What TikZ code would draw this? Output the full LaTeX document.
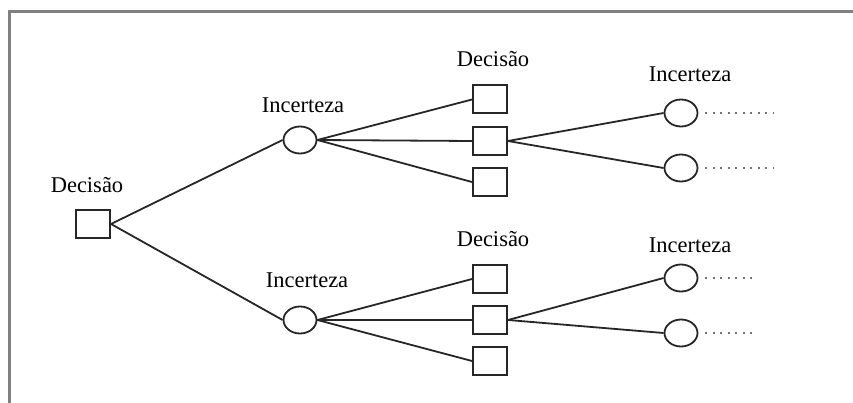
\documentclass[tikz,border=0pt]{standalone}
\usepackage{fontspec}
\setmainfont{Liberation Serif}
\usetikzlibrary{shapes}
\usetikzlibrary{calc}

\begin{document}
\begin{tikzpicture}[x=1pt,y=-1pt,
  dec/.style={draw,rectangle,line width=2pt,black!85,minimum width=34pt,minimum height=28pt,inner sep=0pt},
  inc/.style={draw,ellipse,line width=1.8pt,black!85,minimum width=33pt,minimum height=27pt,inner sep=0pt},
  lbl/.style={anchor=base,inner sep=0pt,font=\fontsize{22.5}{27}\selectfont},
  every edge/.style={draw,line width=1.8pt,black!85},
  dots/.style={draw,black!55,line width=1.8pt,dash pattern=on 2pt off 5.5pt}]
  \useasboundingbox (0,0) rectangle (853,403);
  \draw[gray,line width=3pt] (9,403) -- (9,11.5) -- (853,11.5);

  \node[dec] (D0) at (93,224) {};
  \node[inc] (I-1) at (300,140) {};
  \node[inc] (I-2) at (300,320) {};
  \foreach \y [count=\i] in {99.5,141,182}{%
    \node[dec] (D-1-\i) at (490,\y) {};
  }
  \foreach \y [count=\i] in {279,320,361}{%
    \node[dec] (D-2-\i) at (490,\y) {};
  }
  \node[inc] (C-1-1) at (681,113) {};
  \node[inc] (C-1-2) at (681,168) {};
  \node[inc] (C-2-1) at (681,278) {};
  \node[inc] (C-2-2) at (681,333) {};

  \foreach \k in {1,2}{%
    \path (D0.east) edge (I-\k.west);
    \foreach \i in {1,2,3}{%
      \path (I-\k.east) edge (D-\k-\i.west);
    }
    \foreach \j in {1,2}{%
      \path (D-\k-2.east) edge (C-\k-\j.west);
    }
  }

  \coordinate (E-1-1) at (773,113);
  \coordinate (E-1-2) at (773,168);
  \coordinate (E-2-1) at (757,278);
  \coordinate (E-2-2) at (757,333);
  \foreach \k in {1,2}{%
    \foreach \j in {1,2}{%
      \draw[dots] ($(C-\k-\j.east)+(7,0)$) -- (E-\k-\j);
    }
  }

  \node[lbl] (L0) at (87,193) {Decisão};
  \node[lbl] (L-1) at (303,113) {Incerteza};
  \node[lbl] (L-2) at (307,287) {Incerteza};
  \node[lbl] (M-1) at (493,67) {Decisão};
  \node[lbl] (M-2) at (493,247) {Decisão};
  \node[lbl] (R-1) at (690,82) {Incerteza};
  \node[lbl] (R-2) at (690,252) {Incerteza};
\end{tikzpicture}
\end{document}
